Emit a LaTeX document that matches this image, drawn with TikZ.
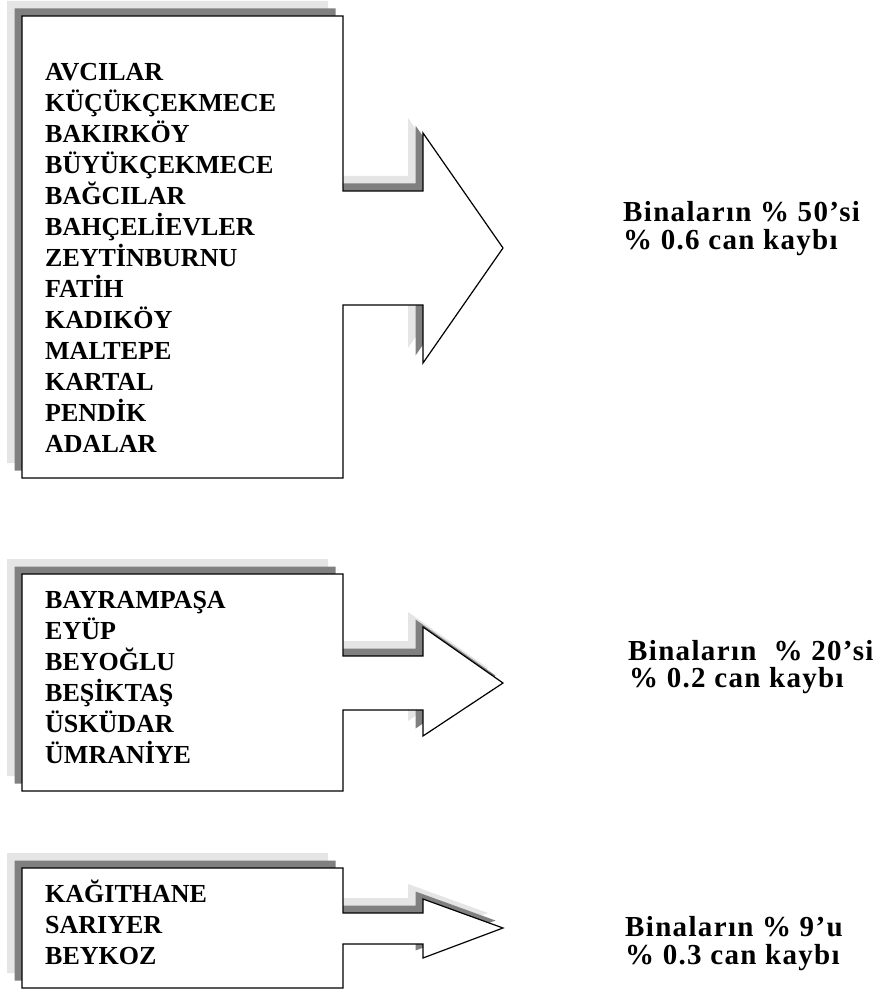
\documentclass[tikz,border=0pt]{standalone}
\usepackage{fontspec}
\setmainfont{Liberation Serif}
\usetikzlibrary{positioning}
\definecolor{shadowdark}{gray}{0.5}
\definecolor{shadowlight}{gray}{0.9}
\tikzset{
	callout/.style={line width=1.2pt, line join=miter},
	district/.style={anchor=base west, inner sep=0pt, font=\bfseries\fontsize{26}{31}\selectfont},
	result/.style={anchor=base west, inner sep=0pt, font=\bfseries\fontsize{29}{34}\selectfont\addfontfeature{LetterSpace=4.6}},
}

\begin{document}
\begin{tikzpicture}[x=1pt, y=-1pt]
		\useasboundingbox (0,0) rectangle (880,992);
		% shadows first, then the white front
		\foreach \s/\c/\d in {15/shadowlight/none, 7.5/shadowdark/none, 0/white/black}{
			\filldraw[callout, fill=\c, draw=\d, shift={(-\s,-\s)}] (22,16) -- (343,16) -- (343,191) -- (423,191) -- (423,133) -- (503,248)
				-- (423,363) -- (423,305) -- (343,305) -- (343,478) -- (22,478) -- cycle;
			\filldraw[callout, fill=\c, draw=\d, shift={(-\s,-\s)}] (22,574) -- (343,574) -- (343,656) -- (423,656) -- (423,627) -- (503,683)
				-- (423,736) -- (423,710) -- (343,710) -- (343,791) -- (22,791) -- cycle;
			\filldraw[callout, fill=\c, draw=\d, shift={(-\s,-\s)}] (22,868) -- (343,868) -- (343,913) -- (423,913) -- (423,899) -- (503,928)
				-- (423,958) -- (423,944) -- (343,944) -- (343,988) -- (22,988) -- cycle;
		}
		\foreach \name [count=\i from 0] in {AVCILAR, KÜÇÜKÇEKMECE, BAKIRKÖY, BÜYÜKÇEKMECE, BAĞCILAR, BAHÇELİEVLER,
			ZEYTİNBURNU, FATİH, KADIKÖY, MALTEPE, KARTAL, PENDİK, ADALAR}
			\node[district] (ilceA\i) at (45, 80.5+31*\i) {\name};
		\foreach \name [count=\i from 0] in {BAYRAMPAŞA, EYÜP, BEYOĞLU, BEŞİKTAŞ, ÜSKÜDAR, ÜMRANİYE}
			\node[district] (ilceB\i) at (45, 608+31*\i) {\name};
		\foreach \name [count=\i from 0] in {KAĞITHANE, SARIYER, BEYKOZ}
			\node[district] (ilceC\i) at (45, 902+31*\i) {\name};
		\node[result] (oranA) at (623,222) {Binaların \% 50’si};
		\node[result] (kayipA) at (623,249) {\% 0.6 can kaybı};
		\node[result] (oranB) at (628,660) {Binaların \ \% 20’si};
		\node[result] (kayipB) at (629,687) {\% 0.2 can kaybı};
		\node[result] (oranC) at (625,936) {Binaların \% 9’u};
		\node[result] (kayipC) at (625,964) {\% 0.3 can kaybı};
\end{tikzpicture}
\end{document}
